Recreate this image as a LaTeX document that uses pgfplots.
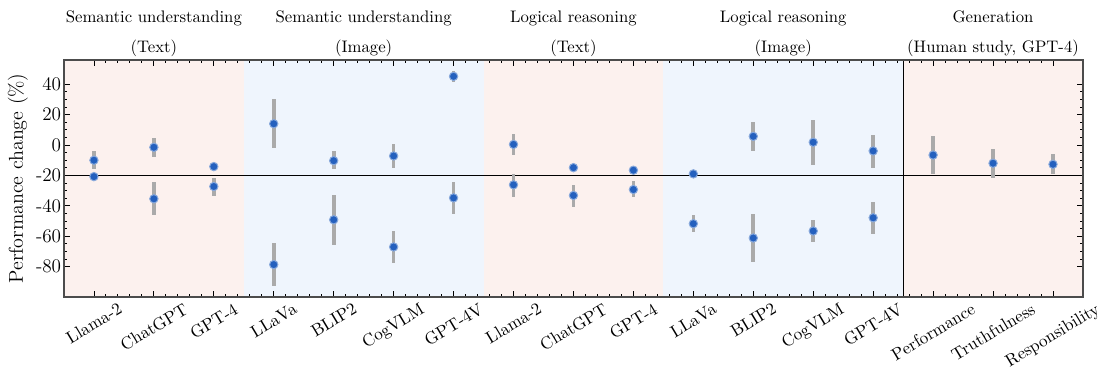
\documentclass[border=0pt]{standalone}
\usepackage{graphicx}
\usepackage{pgfplots}
\usepackage{pgfplotstable}
\pgfplotsset{compat=1.18}
\usetikzlibrary{calc}
\definecolor{pinkbg}{RGB}{252,241,238}
\definecolor{bluebg}{RGB}{239,245,253}
\definecolor{markblue}{RGB}{36,96,190}
\definecolor{errgray}{RGB}{170,170,170}

\pgfplotstableread{
x y ep em
0 -10 6 6
1 -1.5 5.9 6.2
2 -14.2 2.2 1.8
3 14 16.2 16.2
4 -10.3 6.3 5.7
5 -7.2 7.6 8.1
6 45.2 3.3 3.7
7 0.4 6.8 7
8 -14.9 1.5 1.5
9 -16.6 1 1
10 -19 0.5 0.5
11 5.7 9.6 9.6
12 1.8 14.6 14.9
13 -3.9 10.5 11
14 -6.6 12.5 12.4
15 -12 9.4 9.4
16 -12.7 6.6 6.5
}\uppertab

\pgfplotstableread{
x y ep em
0 -20.8 1 1
1 -35.4 10.9 10.9
2 -27.3 5.9 6.1
3 -78.7 14.2 14.2
4 -49.2 16.4 16.8
5 -67.1 10.3 10.5
6 -34.8 10.3 10.4
7 -26.2 7.2 7.7
8 -33.2 7 7.7
9 -29.3 5.3 5.2
10 -51.8 5.5 5.7
11 -61.2 16 16
12 -56.6 7.4 7.4
13 -47.9 10.5 10.7
}\lowertab

\tikzset{grouptitle/.style={anchor=south, align=center, inner sep=0pt, yshift=2pt, font=\fontsize{10}{18}\selectfont}}

\begin{document}
\begin{tikzpicture}
\begin{axis}[
  scale only axis,
  width=610.2pt, height=141.9pt,
  xmin=-0.5, xmax=16.5,
  ymin=-100, ymax=56,
  clip=false,
  axis on top,
  xtick={0,...,16},
  xticklabels={
    \rotatebox{31}{Llama-2},\rotatebox{31}{ChatGPT},\rotatebox{31}{GPT-4},
    \rotatebox{31}{LLaVa},\rotatebox{31}{BLIP2},\rotatebox{31}{CogVLM},\rotatebox{31}{GPT-4V},
    \rotatebox{31}{Llama-2},\rotatebox{31}{ChatGPT},\rotatebox{31}{GPT-4},
    \rotatebox{31}{LLaVa},\rotatebox{31}{BLIP2},\rotatebox{31}{CogVLM},\rotatebox{31}{GPT-4V},
    \rotatebox{31}{Performance},\rotatebox{31}{Truthfulness},\rotatebox{31}{Responsibility}},
  xticklabel style={anchor=north, font=\fontsize{10.3}{12}\selectfont, inner sep=1pt, yshift=-2pt},
  ytick={-80,-60,-40,-20,0,20,40},
  yticklabels={-80,-60,-40,-20,0,20,40},
  yticklabel style={font=\fontsize{11.5}{13}\selectfont, inner sep=1.5pt},
  ylabel={Performance change (\%)},
  ylabel style={font=\fontsize{12}{14}\selectfont, at={(rel axis cs:-0.0451,0.5)}, anchor=center},
  minor x tick num=4,
  minor y tick num=3,
  tick align=inside,
  major tick length=3.5pt,
  minor tick length=2pt,
  tick style={black, line width=0.5pt},
  axis line style={black!70, line width=0.8pt},
]
% background bands
\fill[pinkbg] (axis cs:-0.5,-100) rectangle (axis cs:2.5,56);
\fill[bluebg] (axis cs:2.5,-100) rectangle (axis cs:6.5,56);
\fill[pinkbg] (axis cs:6.5,-100) rectangle (axis cs:9.5,56);
\fill[bluebg] (axis cs:9.5,-100) rectangle (axis cs:13.5,56);
\fill[pinkbg] (axis cs:13.5,-100) rectangle (axis cs:16.5,56);
\draw[black, line width=0.6pt] (axis cs:-0.5,-20) -- (axis cs:16.5,-20);
\draw[black, line width=0.6pt] (axis cs:13.5,-100) -- (axis cs:13.5,56);

\addplot[only marks, mark=*, mark size=2.5pt,
  mark options={fill=markblue, draw=markblue!55!white, line width=0.6pt},
  error bars/.cd, y dir=both, y explicit, error mark=none,
  error bar style={errgray, line width=2.2pt}]
  table[x=x, y=y, y error plus=ep, y error minus=em] {\uppertab};
\addplot[only marks, mark=*, mark size=2.5pt,
  mark options={fill=markblue, draw=markblue!55!white, line width=0.6pt},
  error bars/.cd, y dir=both, y explicit, error mark=none,
  error bar style={errgray, line width=2.2pt}]
  table[x=x, y=y, y error plus=ep, y error minus=em] {\lowertab};

% group titles
\node[grouptitle] at (axis cs:1,56) {Semantic understanding\\(Text)};
\node[grouptitle] at (axis cs:4.5,56) {Semantic understanding\\(Image)};
\node[grouptitle] at (axis cs:8,56) {Logical reasoning\\(Text)};
\node[grouptitle] at (axis cs:11.5,56) {Logical reasoning\\(Image)};
\node[grouptitle] at (axis cs:15,56) {Generation\\(Human study, GPT-4)};
\end{axis}
\pgfresetboundingbox
\path ($(current axis.south west)+(-38.3pt,-43.1pt)$) rectangle ($(current axis.north east)+(10.8pt,35.9pt)$);
\end{tikzpicture}
\end{document}
